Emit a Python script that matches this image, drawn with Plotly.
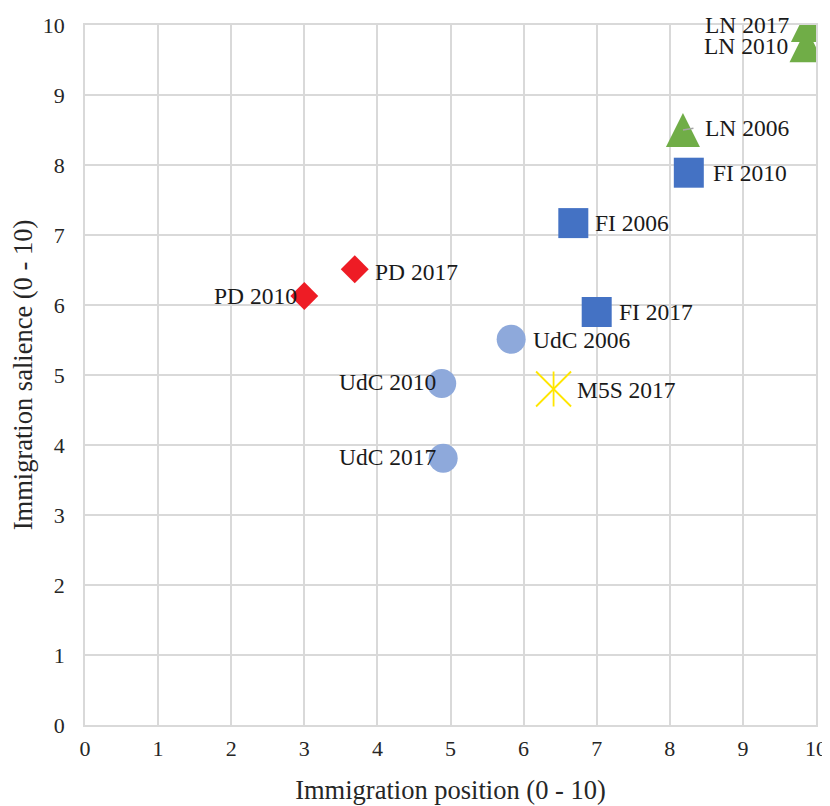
import plotly.graph_objects as go

# ---- data ----
ln_labels = ["LN 2006", "LN 2010", "LN 2017"]
ln_x = [8.18, 9.87, 9.89]
ln_y = [8.5, 9.71, 10.0]

fi_labels = ["FI 2006", "FI 2010", "FI 2017"]
fi_x = [6.68, 8.26, 7.0]
fi_y = [7.17, 7.89, 5.9]

pd_labels = ["PD 2010", "PD 2017"]
pd_x = [3.0, 3.69]
pd_y = [6.13, 6.51]

udc_labels = ["UdC 2006", "UdC 2010", "UdC 2017"]
udc_x = [5.83, 4.88, 4.9]
udc_y = [5.51, 4.88, 3.81]

m5s_labels = ["M5S 2017"]
m5s_x = [6.41]
m5s_y = [4.8]

x_ticks = list(range(0, 11))
y_ticks = list(range(0, 11))

# ---- label placement (style) ----
label_style = {
    "LN 2006": ("left", 20, 2),
    "LN 2010": ("right", -17, -1),
    "LN 2017": ("right", -17, 0),
    "FI 2006": ("left", 20, 0),
    "FI 2010": ("left", 22, 0),
    "FI 2017": ("left", 20, 0),
    "PD 2010": ("right", -5, 0),
    "PD 2017": ("left", 18, -3),
    "UdC 2006": ("left", 20, -1),
    "UdC 2010": ("right", -4, 1),
    "UdC 2017": ("right", -4, 1),
    "M5S 2017": ("left", 21, -1),
}

FONT = "Liberation Serif, Times New Roman, serif"

fig = go.Figure()

fig.add_trace(go.Scatter(x=udc_x, y=udc_y, mode="markers",
                         marker=dict(symbol="circle", size=29, color="#8EA9DB"),
                         name="UdC"))
fig.add_trace(go.Scatter(x=pd_x, y=pd_y, mode="markers",
                         marker=dict(symbol="diamond", size=21.5, color="#EE1C25"),
                         name="PD"))
fig.add_trace(go.Scatter(x=fi_x, y=fi_y, mode="markers",
                         marker=dict(symbol="square", size=30, color="#4472C4"),
                         name="FI"))
# arrow-down rotated 180deg = upward isosceles triangle (as tall as wide);
# the standoff then centres it on the data point
fig.add_trace(go.Scatter(x=ln_x, y=ln_y, mode="markers",
                         marker=dict(symbol="arrow-down", size=34, color="#70AD47",
                                     angle=180, standoff=17),
                         name="LN"))
fig.add_trace(go.Scatter(x=m5s_x, y=m5s_y, mode="markers",
                         marker=dict(symbol="x-thin-open", size=35, color="#FFE600",
                                     line=dict(color="#FFE600", width=1.8)),
                         name="M5S"))
fig.add_trace(go.Scatter(x=m5s_x, y=m5s_y, mode="markers",
                         marker=dict(symbol="line-ns-open", size=25, color="#FFE600",
                                     line=dict(color="#FFE600", width=1.8)),
                         name="M5S", showlegend=False))

annotations = []
for labels, xs, ys in [(ln_labels, ln_x, ln_y), (fi_labels, fi_x, fi_y),
                       (pd_labels, pd_x, pd_y), (udc_labels, udc_x, udc_y),
                       (m5s_labels, m5s_x, m5s_y)]:
    for lab, xv, yv in zip(labels, xs, ys):
        anchor, xs_, ys_ = label_style[lab]
        annotations.append(dict(x=xv, y=yv, xref="x", yref="y", text=lab,
                                showarrow=False, xanchor=anchor, yanchor="middle",
                                xshift=xs_, yshift=ys_,
                                font=dict(family=FONT, size=23.5, color="#1a1a1a")))

# leader line for LN 2006
annotations.append(dict(x=ln_x[0], y=ln_y[0], xref="x", yref="y", text="",
                        showarrow=True, arrowhead=0, arrowwidth=1.5,
                        arrowcolor="#A6A6A6", ax=12, ay=-2, standoff=0))

# page body has an 8px margin, so the figure is 8px smaller each way
fig.update_layout(
    width=822, height=798,
    margin=dict(l=77, r=14, t=17, b=81),
    paper_bgcolor="white", plot_bgcolor="white",
    showlegend=False,
    font=dict(family=FONT, color="#262626"),
    annotations=annotations,
)

axis_common = dict(
    range=[0, 10], showgrid=True, gridcolor="#D9D9D9",
    gridwidth=1.5, zeroline=False, showline=True, linecolor="#D9D9D9",
    linewidth=1.5, mirror=True, ticks="outside", tickcolor="rgba(0,0,0,0)",
    tickfont=dict(family=FONT, size=22, color="#262626"), automargin=False,
)

fig.update_xaxes(**axis_common, tickvals=x_ticks, ticklen=3,
                 title=dict(text="Immigration position (0 - 10)",
                            font=dict(family=FONT, size=26.5, color="#262626"),
                            standoff=20))
fig.update_yaxes(**axis_common, tickvals=y_ticks, ticklen=14,
                 title=dict(text="Immigration salience (0 - 10)",
                            font=dict(family=FONT, size=26.5, color="#262626"),
                            standoff=7))

fig.write_html("out.html")
